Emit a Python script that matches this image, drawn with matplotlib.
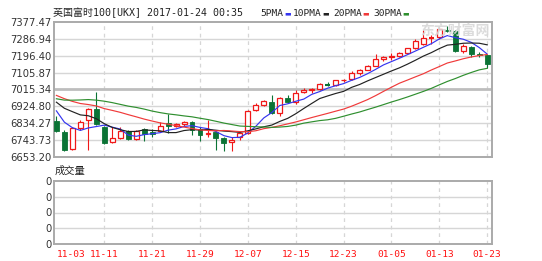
import numpy as np
import pandas as pd

import matplotlib

matplotlib.use("Agg")
import matplotlib.pyplot as plt

W, H = 542, 261

# closes before the visible window (only feed the moving averages)
PRE_CLOSE = [6909.43, 6818.04, 6807.67, 6849.38, 6919.42, 6899.33,
             6983.52, 7074.34, 7033.25, 6999.96, 7044.39, 7097.50, 7070.88,
             7024.01, 6977.74, 7013.55, 6947.55, 7000.06, 6998.27, 7026.90,
             7020.47, 6986.57, 7017.64, 6958.09, 6986.40, 6996.26, 6954.22,
             6917.14, 6845.42]

OPEN = [6845, 6790, 6695, 6807, 6850, 6911, 6815, 6732, 6755, 6795,
        6752, 6802, 6790, 6795, 6835, 6822, 6829, 6841, 6805, 6776,
        6787, 6753, 6735, 6760, 6780, 6905, 6932, 6950, 6890, 6968,
        6950, 7003, 7012, 7020, 7045, 7042, 7064, 7072, 7106, 7122,
        7142, 7178, 7190, 7195, 7210, 7238, 7262, 7290, 7295, 7337,
        7327, 7222, 7245, 7208, 7198]
HIGH = [6873, 6800, 6812, 6852, 6915, 7000, 6822, 6815, 6815, 6800,
        6798, 6808, 6805, 6842, 6885, 6836, 6848, 6845, 6812, 6850,
        6795, 6760, 6760, 6790, 6905, 6945, 6960, 6985, 6975, 6985,
        7010, 7025, 7025, 7050, 7055, 7068, 7072, 7112, 7125, 7148,
        7205, 7197, 7210, 7214, 7240, 7285, 7332, 7310, 7340, 7355,
        7335, 7262, 7250, 7215, 7202]
LOW = [6785, 6683, 6693, 6800, 6693, 6826, 6725, 6728, 6752, 6744,
       6745, 6740, 6762, 6790, 6782, 6812, 6822, 6772, 6740, 6760,
       6690, 6683, 6685, 6745, 6775, 6900, 6928, 6884, 6874, 6945,
       6935, 6995, 6995, 7015, 7033, 7035, 7058, 7065, 7095, 7118,
       7140, 7168, 7172, 7188, 7205, 7235, 7255, 7262, 7288, 7322,
       7215, 7210, 7190, 7190, 7130]
CLOSE = [6790.51, 6693.26, 6806.90, 6843.13, 6911.84, 6827.98, 6730.43,
         6753.20, 6792.74, 6749.72, 6794.71, 6775.77, 6777.96, 6819.72,
         6817.71, 6829.20, 6840.75, 6799.47, 6772.04, 6783.79, 6752.93,
         6730.72, 6746.83, 6779.84, 6902.19, 6931.55, 6954.21, 6890.42,
         6968.57, 6949.15, 6999.05, 7011.64, 7017.16, 7043.96, 7041.42,
         7063.68, 7068.17, 7106.08, 7120.26, 7142.83, 7177.89, 7189.74,
         7195.31, 7210.05, 7237.77, 7275.47, 7290.49, 7292.37, 7337.81,
         7327.13, 7220.38, 7247.61, 7208.44, 7198.44, 7151.21]
VOLUME = [0] * len(CLOSE)

TICK_IDX = [0, 6, 12, 18, 24, 30, 36, 42, 48, 54]
TICK_LABELS = ["11-03", "11-11", "11-21", "11-29", "12-07",
               "12-15", "12-23", "01-05", "01-13", "01-23"]
Y_LABELS = ["6653.20", "6743.73", "6834.27", "6924.80", "7015.34",
            "7105.87", "7196.40", "7286.94", "7377.47"]

MA = [(5, "5PMA", "#3535f0"), (10, "10PMA", "#222222"),
      (20, "20PMA", "#f03a3a"), (30, "30PMA", "#2f8f2f")]

RED, GREEN = "#f01818", "#0b7335"
GRID, FRAME = "#d6d6d6", "#aaaaaa"
CJK = ["DejaVu Sans Mono", "Noto Sans CJK SC"]


def box(l, t, r, b):
    return [l / W, 1 - b / H, (r - l) / W, (b - t) / H]


def frame(ax):
    for s in ax.spines.values():
        s.set_color(FRAME)
        s.set_linewidth(1.4)
    ax.tick_params(length=0, labelsize=7.2, labelcolor="#333333", pad=2)
    ax.set_xlim(-0.3, 54.6)
    ax.set_xticks(TICK_IDX)
    for i in TICK_IDX[1:]:
        ax.axvline(i, color=GRID, lw=0.9, ls=(0, (3, 3)), zorder=0)


def main():
    n = len(CLOSE)
    x = np.arange(n)
    o, h, l, c = map(np.asarray, (OPEN, HIGH, LOW, CLOSE))
    allc = pd.Series(PRE_CLOSE + CLOSE)

    fig = plt.figure(figsize=(W / 100, H / 100), dpi=100)
    fig.patch.set_facecolor("white")

    ax = fig.add_axes(box(54, 22, 492, 157))
    frame(ax)
    yt = [float(v) for v in Y_LABELS]
    ax.set_ylim(yt[0], yt[-1])
    ax.set_yticks(yt, Y_LABELS)
    ax.set_xticklabels([])
    for k, v in enumerate(yt[1:-1], 1):
        if k == 4:
            ax.axhline(v, color="#bdbdbd", lw=2.0, zorder=0)
        else:
            ax.axhline(v, color=GRID, lw=1.0, zorder=0)

    bw = 0.62
    up = c >= o
    flat = np.abs(c - o) < 4
    dn = ~up & ~flat
    upb = up & ~flat
    fu = flat & up
    fd = flat & ~up

    # wicks
    ax.vlines(x[dn], l[dn], h[dn], color=GREEN, lw=0.8, zorder=2)
    ax.vlines(x[upb], l[upb], o[upb], color=RED, lw=0.8, zorder=2)
    ax.vlines(x[upb], c[upb], h[upb], color=RED, lw=0.8, zorder=2)
    ax.vlines(x[fu], l[fu], h[fu], color=RED, lw=0.8, zorder=2)
    ax.vlines(x[fd], l[fd], h[fd], color=GREEN, lw=0.8, zorder=2)
    ax.hlines(c[fu], x[fu] - bw / 2, x[fu] + bw / 2, color=RED, lw=1.5, zorder=3)
    ax.hlines(c[fd], x[fd] - bw / 2, x[fd] + bw / 2, color=GREEN, lw=1.5, zorder=3)

    # bodies
    ax.bar(x[upb], (c - o)[upb], bottom=o[upb], width=bw, facecolor="white",
           edgecolor=RED, lw=0.9, zorder=3)
    ax.bar(x[dn], (o - c)[dn], bottom=c[dn], width=bw, color=GREEN,
           edgecolor=GREEN, lw=0.6, zorder=3)

    for win, _, col in MA:
        ma = allc.rolling(win).mean().iloc[len(PRE_CLOSE):].to_numpy()
        ax.plot(x, ma, color=col, lw=0.85, zorder=4)

    # volume panel (all zeros)
    av = fig.add_axes(box(54, 181, 492, 244))
    frame(av)
    av.set_ylim(0, 4)
    av.set_yticks(range(5), ["0"] * 5)
    for v in range(1, 4):
        av.axhline(v, color=GRID, lw=1.0, zorder=0)
    av.bar(x, VOLUME, width=bw, color=RED)
    av.set_xticklabels(TICK_LABELS, color="#ff1010", family="DejaVu Sans Mono",
                       fontsize=6.8)
    av.tick_params(axis="x", pad=4)
    av.get_xticklabels()[0].set_horizontalalignment("left")

    # header and legend
    fig.text(53 / W, 1 - 13 / H, "英国富时100[UKX] 2017-01-24 00:35",
             family=CJK, fontsize=7.2, color="#222222", va="center")
    pos = [260, 293, 333, 373]
    for (win, name, col), px in zip(MA, pos):
        fig.text(px / W, 1 - 13 / H, name, family="DejaVu Sans Mono",
                 fontsize=6.8, color="#222222", va="center")
        fig.text((px + len(name) * 5.6 + 1.5) / W, 1 - 13 / H, "▬",
                 family="DejaVu Sans", fontsize=5, color=col, va="center")

    fig.text(55 / W, 1 - 171 / H, "成交量", family=CJK, fontsize=7.4,
             color="#222222", va="center")

    # watermark
    fig.text(455 / W, 1 - 31 / H, "东方财富网", family=CJK, fontsize=10,
             fontweight="bold", color="#d8d8d8", ha="center", va="center",
             alpha=0.9, zorder=5)

    fig.savefig("out.png", dpi=100)


if __name__ == "__main__":
    main()
